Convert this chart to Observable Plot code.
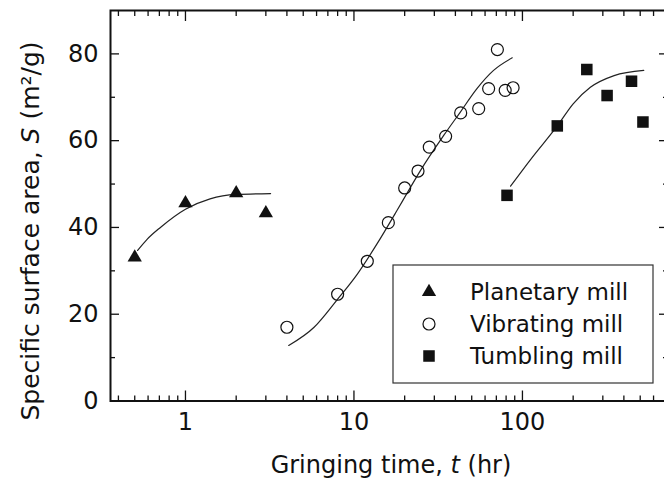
<!DOCTYPE html>
<html><head><meta charset="utf-8">
<script src="https://cdn.jsdelivr.net/npm/d3@7"></script>
<script src="https://cdn.jsdelivr.net/npm/@observablehq/plot@0.6"></script>
<style>
html,body{margin:0;padding:0;background:#fff;overflow:hidden}
svg{max-width:none !important}
</style></head><body><div id="chart"></div>
<script>
// Measured data (grinding time in hr, specific surface area in m2/g)
const planetaryTime = [0.5, 1, 2, 3];
const planetaryArea = [33.1, 45.6, 47.9, 43.3];
const planetaryFitTime = [0.52, 0.59, 0.71, 1.0, 1.4, 2.0, 3.2];
const planetaryFitArea = [34.7, 37.2, 40.0, 44.2, 46.6, 47.6, 47.8];

const vibratingTime = [4, 8, 12, 16, 20, 24, 28, 35, 43, 55, 63, 71, 79, 88];
const vibratingArea = [17.0, 24.6, 32.2, 41.1, 49.1, 53.0, 58.5, 61.0, 66.4, 67.4, 72.0, 81.0, 71.6, 72.2];
const vibratingFitTime = [4.1, 5.8, 7.9, 10.5, 13.7, 18.0, 21.1, 24.8, 34.1, 42.8, 53.7, 67.4, 87];
const vibratingFitArea = [12.8, 17.0, 23.2, 29.3, 36.2, 43.9, 48.5, 53.1, 61.2, 66.6, 72.0, 76.2, 79.1];

const tumblingTime = [81, 161, 241, 318, 444, 519];
const tumblingArea = [47.4, 63.4, 76.4, 70.4, 73.7, 64.3];
const tumblingFitTime = [85, 112, 161, 200, 253, 350, 525];
const tumblingFitArea = [49.5, 55.7, 63.4, 68.5, 72.3, 75.0, 76.2];

const seriesNames = ["Planetary mill", "Vibrating mill", "Tumbling mill"];

const xMajorTicks = [1, 10, 100];
const xMinorTicks = [0.4,0.5,0.6,0.7,0.8,0.9,2,3,4,5,6,7,8,9,20,30,40,50,60,70,80,90,200,300,400,500,600,700];
const yMajorTicks = [0, 20, 40, 60, 80];
const yMinorTicks = [10, 30, 50, 70];

const xLabelParts = ["Gringing time, ", "t", " (hr)"];
const yLabelParts = ["Specific surface area, ", "S", " (m²/g)"];

const zip = (xs, ys) => xs.map((x, i) => ({x, y: ys[i]}));
const planetary = zip(planetaryTime, planetaryArea);
const planetaryFit = zip(planetaryFitTime, planetaryFitArea);
const vibrating = zip(vibratingTime, vibratingArea);
const vibratingFit = zip(vibratingFitTime, vibratingFitArea);
const tumbling = zip(tumblingTime, tumblingArea);
const tumblingFit = zip(tumblingFitTime, tumblingFitArea);

const FONT = "DejaVu Sans";
const ink = "#111";
const lineInk = "#222";

const plot = Plot.plot({
  width: 664,
  height: 483,
  marginLeft: 110,
  marginRight: -3,
  marginTop: 10,
  marginBottom: 82.5,
  style: {fontFamily: FONT, background: "#fff", color: ink},
  x: {type: "log", domain: [0.359, 726]},
  y: {domain: [0, 90]},
  marks: [
    Plot.frame({stroke: ink, strokeWidth: 2}),
    // inward ticks
    Plot.axisY(yMajorTicks, {anchor: "left", tickSize: -9, fill: "none", label: null, stroke: ink, strokeWidth: 1.3}),
    Plot.axisY(yMinorTicks, {anchor: "left", tickSize: -5, fill: "none", label: null, stroke: ink, strokeWidth: 1.3}),
    Plot.axisY(yMajorTicks, {anchor: "right", tickSize: -9, fill: "none", label: null, stroke: ink, strokeWidth: 1.3}),
    Plot.axisY(yMinorTicks, {anchor: "right", tickSize: -5, fill: "none", label: null, stroke: ink, strokeWidth: 1.3}),
    Plot.axisX(xMajorTicks, {anchor: "bottom", tickSize: -10, fill: "none", label: null, stroke: ink, strokeWidth: 1.3}),
    Plot.axisX(xMinorTicks, {anchor: "bottom", tickSize: -5, fill: "none", label: null, stroke: ink, strokeWidth: 1.3}),
    Plot.axisX(xMajorTicks, {anchor: "top", tickSize: -10, fill: "none", label: null, stroke: ink, strokeWidth: 1.3}),
    Plot.axisX(xMinorTicks, {anchor: "top", tickSize: -5, fill: "none", label: null, stroke: ink, strokeWidth: 1.3}),
    // tick labels
    Plot.axisY(yMajorTicks, {anchor: "left", tickSize: 0, tickPadding: 12, label: null, fontSize: 24, fill: ink, tickFormat: d => String(d)}),
    Plot.axisX(xMajorTicks, {anchor: "bottom", tickSize: 0, tickPadding: 12, label: null, fontSize: 24, fill: ink, tickFormat: d => String(d)}),
    // fitted curves
    Plot.line(planetaryFit, {x: "x", y: "y", curve: "monotone-x", stroke: lineInk, strokeWidth: 1.2}),
    Plot.line(vibratingFit, {x: "x", y: "y", curve: "monotone-x", stroke: lineInk, strokeWidth: 1.2}),
    Plot.line(tumblingFit, {x: "x", y: "y", curve: "monotone-x", stroke: lineInk, strokeWidth: 1.2}),
    // data points
    Plot.dot(planetary, {x: "x", y: "y", symbol: "triangle", r: 5.3, fill: ink, stroke: "none"}),
    Plot.dot(vibrating, {x: "x", y: "y", symbol: "circle", r: 6, fill: "none", stroke: ink, strokeWidth: 1.2}),
    Plot.dot(tumbling, {x: "x", y: "y", symbol: "square", r: 6.5, fill: ink, stroke: "none"})
  ]
});

document.getElementById("chart").appendChild(plot);

const svg = d3.select(plot);

// axis titles
const xl = svg.append("text")
  .attr("x", 391).attr("y", 473)
  .attr("text-anchor", "middle")
  .attr("font-family", FONT).attr("font-size", 24).attr("fill", ink);
xl.append("tspan").text(xLabelParts[0]);
xl.append("tspan").attr("font-style", "italic").text(xLabelParts[1]);
xl.append("tspan").text(xLabelParts[2]);

const yl = svg.append("text")
  .attr("transform", "translate(39,231) rotate(-90)")
  .attr("text-anchor", "middle")
  .attr("font-family", FONT).attr("font-size", 25).attr("fill", ink);
yl.append("tspan").text(yLabelParts[0]);
yl.append("tspan").attr("font-style", "italic").text(yLabelParts[1]);
yl.append("tspan").text(yLabelParts[2]);

// legend
const lg = svg.append("g");
lg.append("rect").attr("x", 393).attr("y", 265).attr("width", 260).attr("height", 118)
  .attr("fill", "#fff").attr("stroke", "#333").attr("stroke-width", 1.2);
const legendSymbols = [
  {sym: d3.symbolTriangle, size: Math.PI * 5.3 * 5.3, fill: ink, stroke: "none"},
  {sym: d3.symbolCircle, size: Math.PI * 6 * 6, fill: "none", stroke: ink},
  {sym: d3.symbolSquare, size: Math.PI * 6.5 * 6.5, fill: ink, stroke: "none"}
];
const rowY = [292, 324, 356];
seriesNames.forEach((name, i) => {
  const s = legendSymbols[i];
  lg.append("path")
    .attr("d", d3.symbol(s.sym, s.size)())
    .attr("transform", `translate(429,${rowY[i]})`)
    .attr("fill", s.fill).attr("stroke", s.stroke).attr("stroke-width", 1.2);
  lg.append("text").attr("x", 470).attr("y", rowY[i])
    .attr("dy", "0.36em")
    .attr("text-anchor", "start")
    .attr("font-family", FONT).attr("font-size", 23).attr("fill", ink)
    .text(name);
});
</script>
</body></html>
